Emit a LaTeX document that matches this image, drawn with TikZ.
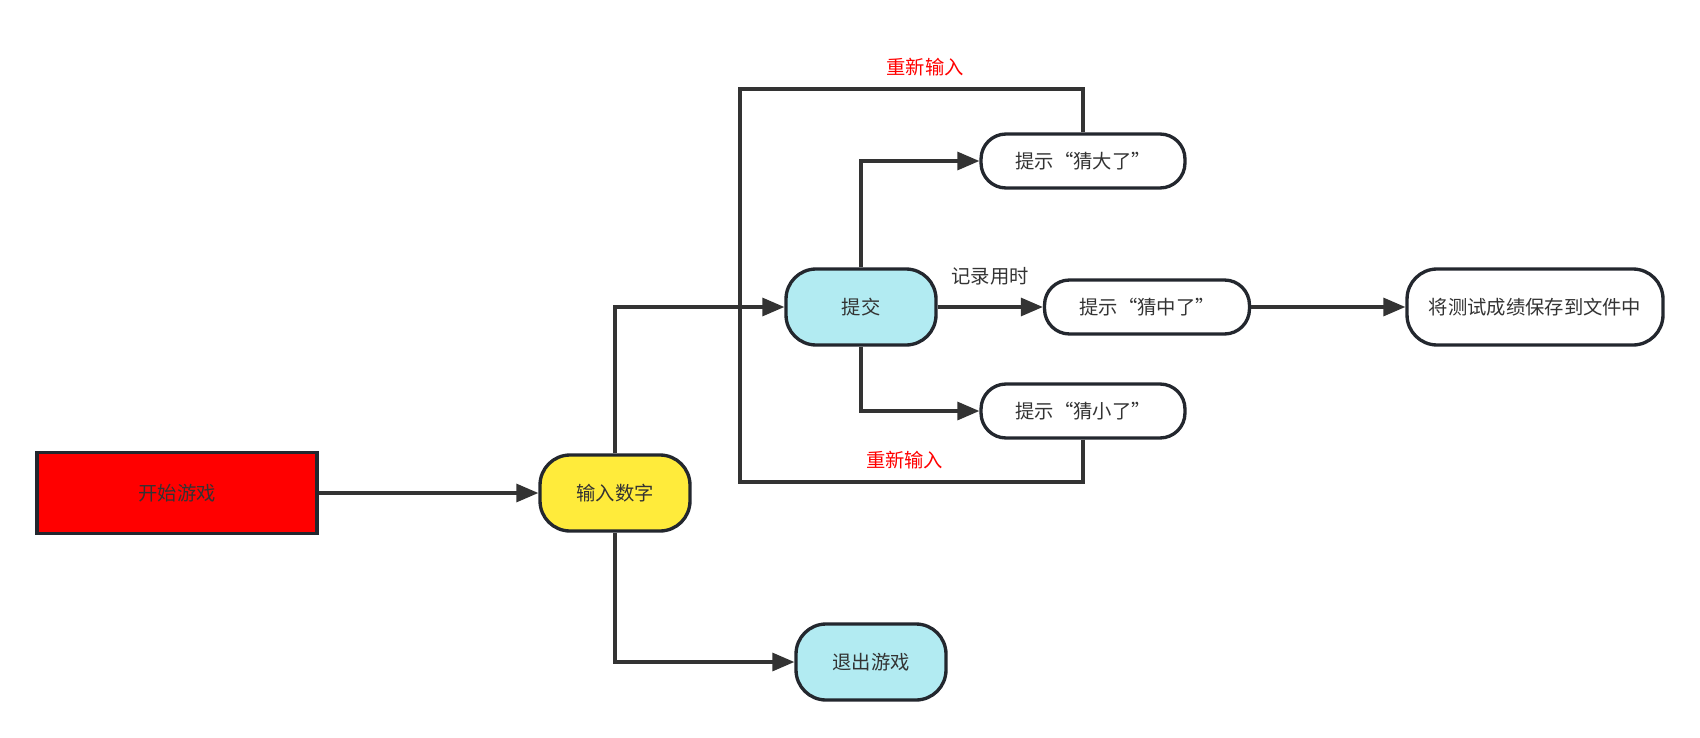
\documentclass[tikz,border=0pt]{standalone}
\usepackage{fontspec}
\setmainfont{Noto Sans CJK SC}
\usetikzlibrary{arrows.meta}
\definecolor{line gray}{HTML}{333333}
\definecolor{box edge}{HTML}{23272E}
\definecolor{submit cyan}{HTML}{B2EBF2}
\definecolor{input yellow}{HTML}{FFEB3B}
\colorlet{retry red}{red}
\tikzset{box/.style={draw=box edge, line width=1.9pt, text=line gray, inner sep=0pt,
      font=\fontsize{11pt}{13pt}\selectfont},
    tall/.style={box, rounded corners=0.6cm, minimum width=3cm, minimum height=1.52cm},
    hint/.style={box, rounded corners=0.5cm, minimum width=4.08cm, minimum height=1.08cm},
    link/.style={draw=line gray, line width=1.8pt, -{Triangle[length=4.4mm, width=3.6mm]}},
    loop/.style={draw=line gray, line width=1.8pt},
    retry/.style={text=retry red, font=\fontsize{11pt}{13pt}\selectfont, above=3pt}}

\begin{document}
\begin{tikzpicture}[x=0.02cm, y=-0.02cm]
    \useasboundingbox (0,0) rectangle (1700,737);
    \node[box, fill=red, minimum width=5.6cm, minimum height=1.62cm] (start) at (177,493) {开始游戏};
    \node[tall, fill=input yellow] (input) at (615,493) {输入数字};
    \node[tall, fill=submit cyan] (submit) at (861,307) {提交};
    \node[tall, fill=submit cyan] (quit) at (871,662) {退出游戏};
    \node[hint] (big) at (1083,161) {提示“猜大了”};
    \node[hint, minimum width=4.1cm] (hit) at (1147,307) {提示“猜中了”};
    \node[hint] (small) at (1083,411) {提示“猜小了”};
    \node[tall, minimum width=5.12cm] (save) at (1535,307) {将测试成绩保存到文件中};
    \coordinate (ltop) at (740,89);
    \coordinate (lmid) at (740,307);
    \coordinate (lbot) at (740,482);
    \draw[loop] (big.north) |- node[retry, pos=0.73] {重新输入} (ltop) -- (lmid);
    \draw[loop] (small.south) |- node[retry, pos=0.76] {重新输入} (lbot) -- (lmid);
    \draw[link] (start) -- (input);
    \draw[link] (input.north) |- (submit.west);
    \draw[link] (input.south) |- (quit.west);
    \draw[link] (submit.north) |- (big.west);
    \draw[link] (submit.south) |- (small.west);
    \draw[link] (submit) -- node[retry, text=line gray, above=5pt] {记录用时} (hit);
    \draw[link] (hit) -- (save);
\end{tikzpicture}
\end{document}
